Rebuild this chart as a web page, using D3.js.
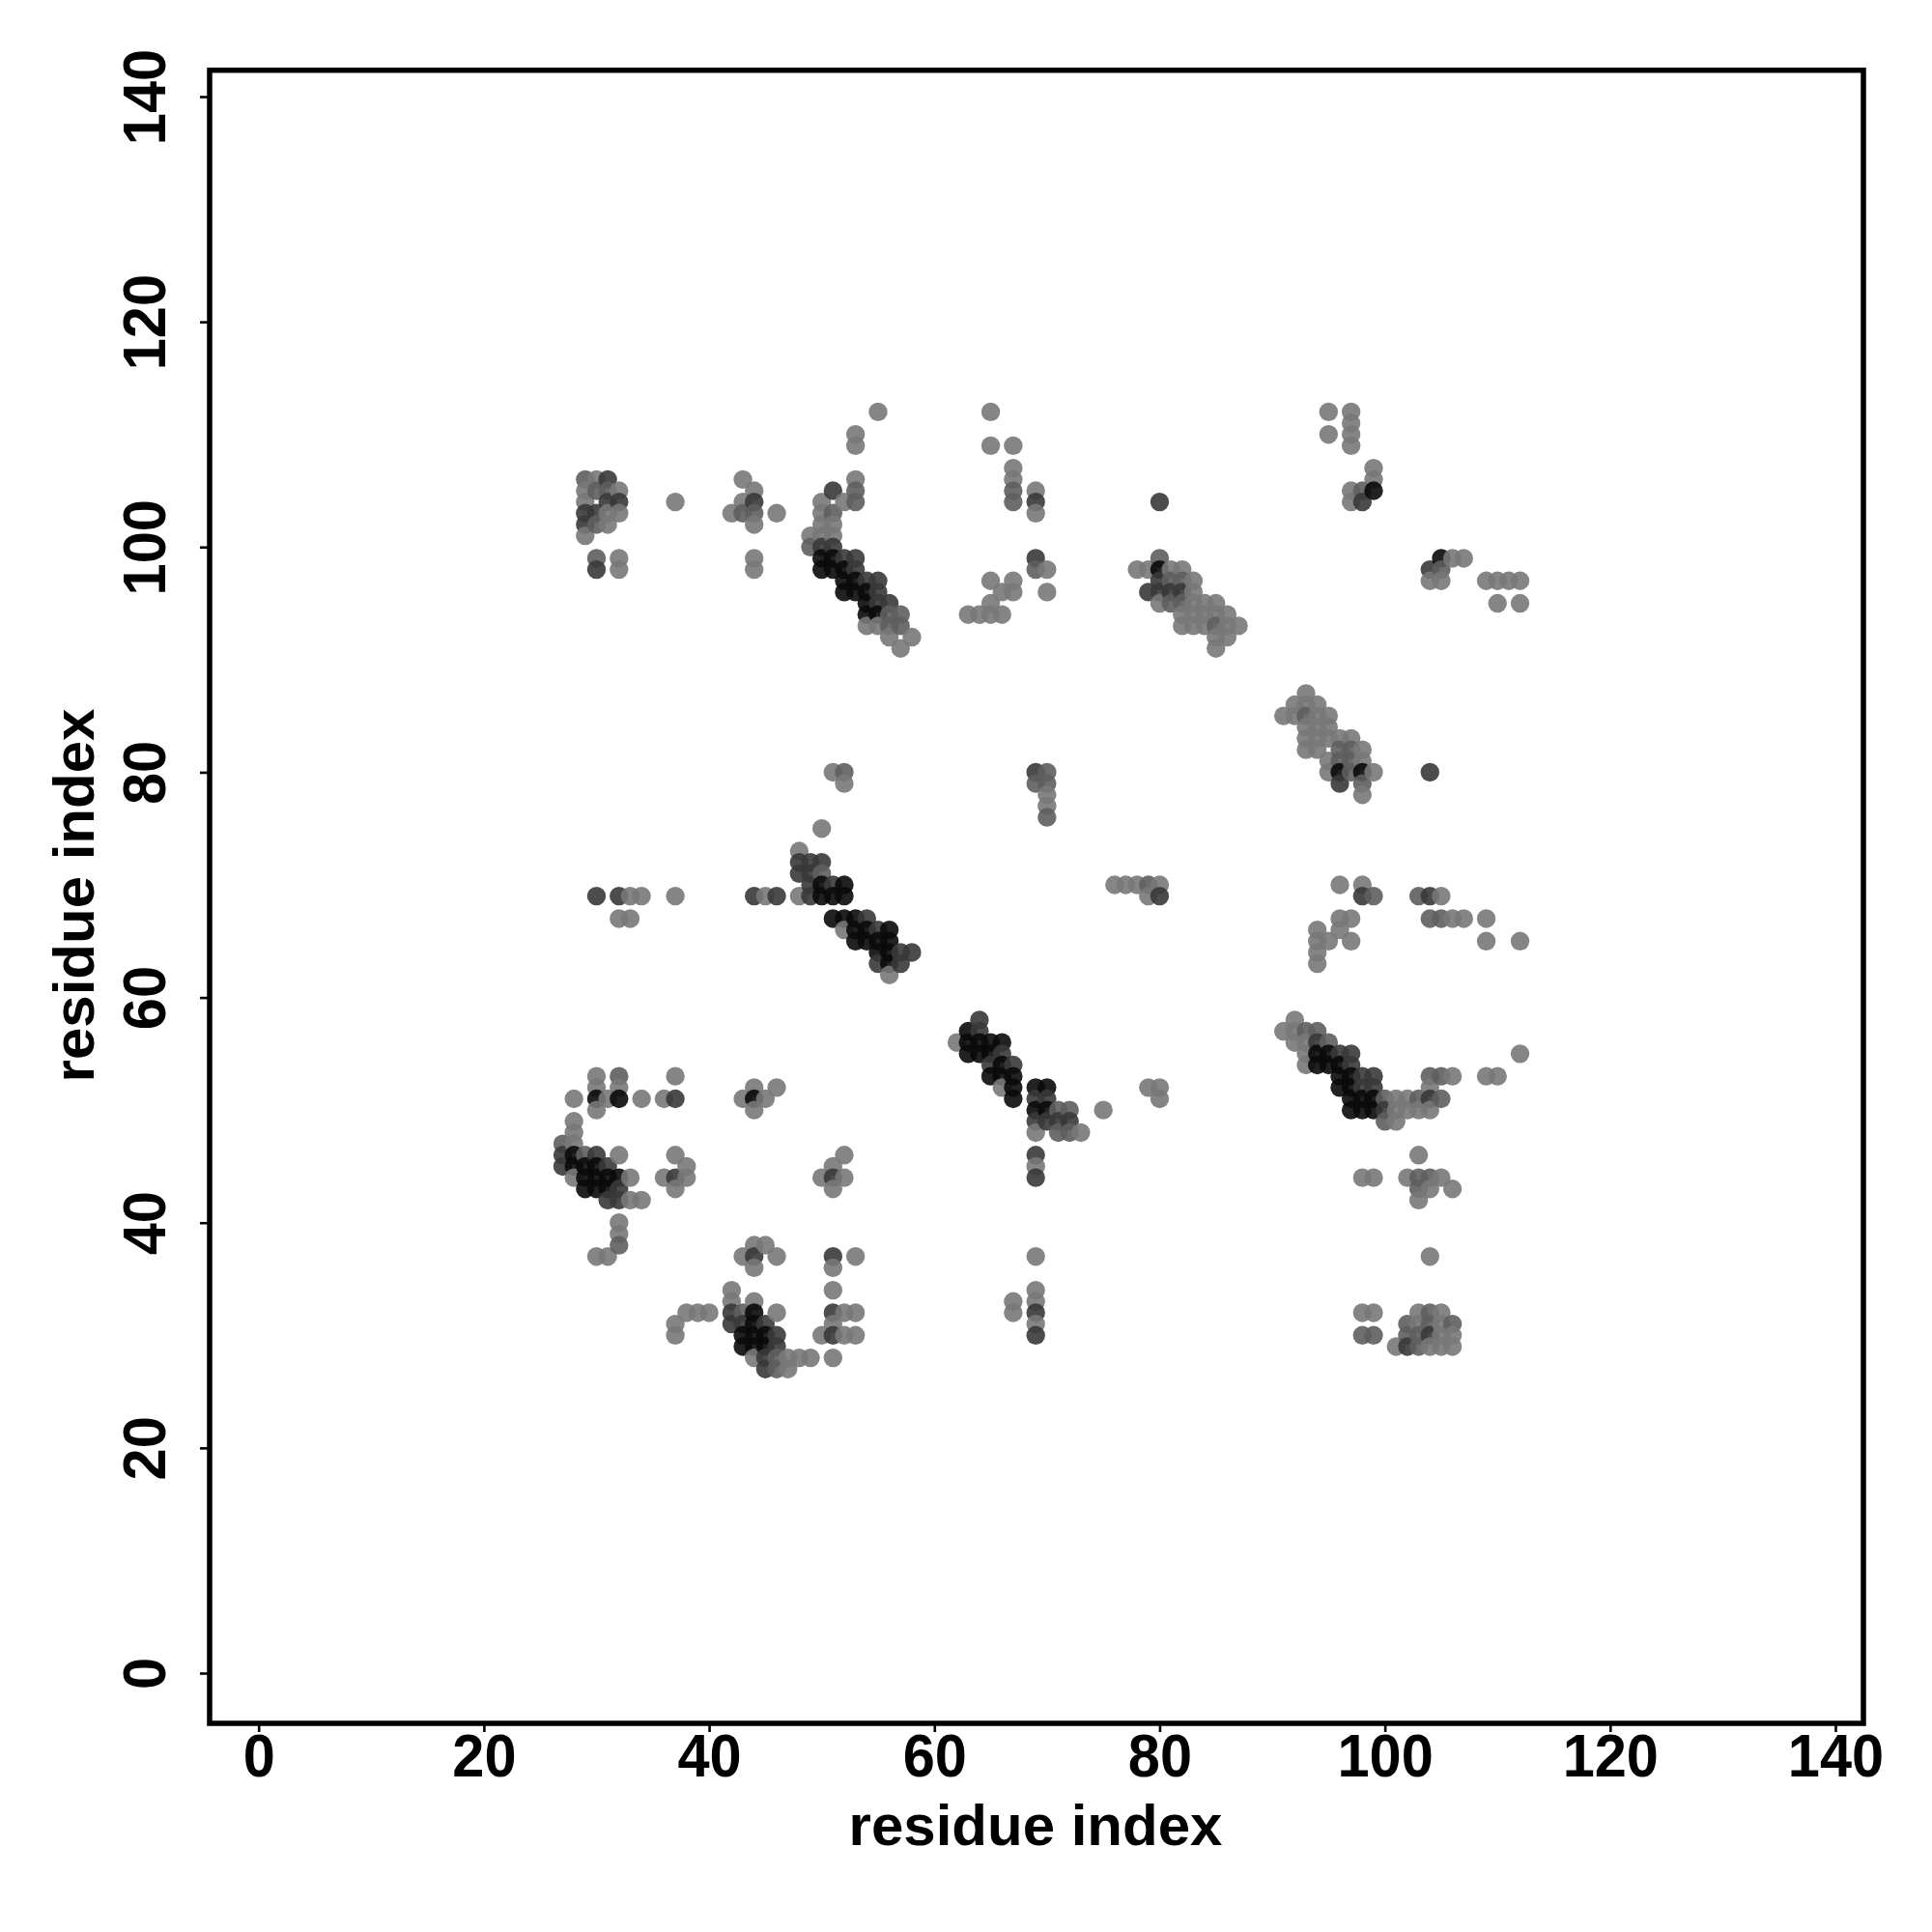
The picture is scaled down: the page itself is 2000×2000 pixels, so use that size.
<!DOCTYPE html>
<html>
<head>
<meta charset="utf-8">
<script src="https://cdn.jsdelivr.net/npm/d3@7"></script>
<style>html,body{margin:0;background:#fff}svg{display:block}</style>
</head>
<body>
<div id="chart"></div>
<script>
const xTicks = [0,20,40,60,80,100,120,140];
const yTicks = [0,20,40,60,80,100,120,140];
const xTitle = "residue index";
const yTitle = "residue index";
const levelGrays = ["#787878", "#5e5e5e", "#383838", "#0a0a0a"];

// contact pairs [residue, residue], grouped by darkness
const lightContacts = [
[30,106],[29,105],[29,104],[32,105],[31,103],[32,103],[31,102],[29,101],[32,99],[32,98],
[37,104],[43,104],[44,105],[42,103],[44,102],[44,99],[44,98],[46,103],[43,106],
[49,101],[50,104],[50,103],[50,102],[50,101],[51,102],[51,101],[52,104],[53,106],[53,110],[53,109],[55,112],
[54,93],[55,93],[57,91],[58,92],[56,92],
[65,112],[65,109],[67,109],[67,107],[67,106],[69,105],[69,103],[70,98],[70,96],[65,97],[67,97],[67,96],[66,96],[65,95],[63,94],[64,94],[65,94],[66,94],
[78,98],[79,98],[81,98],[82,98],[83,97],[83,96],[84,95],[85,95],[82,94],[83,94],[84,94],[85,94],[86,94],[82,93],[83,93],[84,93],[86,93],[87,93],[85,92],[86,92],[85,91],[80,95],[83,95],
[95,112],[97,112],[97,111],[97,110],[97,109],[95,110],[99,107],[99,106],[97,105],[97,104],
[106,99],[107,99],[104,97],[105,97],[109,97],[110,97],[111,97],[112,97],[110,95],[112,95],
[51,80],[52,79],[50,75],[48,73],[48,69],[33,69],[34,69],[37,69],[45,69],[32,67],[33,67],[52,66],[56,62],
[70,78],[70,77],[76,70],[77,70],[78,70],[80,70],[79,69],
[93,87],[92,86],[93,86],[94,86],[91,85],[92,85],[94,85],[95,85],[93,84],[94,84],[95,84],[93,83],[94,83],[95,83],[97,83],[96,83],[93,82],[94,82],[98,82],[95,81],[98,81],[95,80],[99,80],[98,78],
[96,70],[98,70],[105,69],[96,67],[97,67],[106,67],[107,67],[109,67],[94,66],[96,66],[94,65],[95,65],[97,65],[109,65],[112,65],[94,64],[94,63],
[30,53],[32,52],[30,52],[28,51],[31,51],[34,51],[36,51],[37,53],[30,50],[44,52],[46,52],[43,51],[45,51],[44,50],
[28,49],[28,48],[28,47],[32,46],[37,46],[38,45],[28,44],[33,44],[36,44],[38,44],[37,43],[33,42],[34,42],[32,40],[32,39],[30,37],[31,37],
[52,46],[50,44],[52,44],[51,43],[51,45],[45,38],[44,38],[43,37],[46,37],[44,36],[53,37],[51,36],[51,34],[42,34],
[38,32],[39,32],[40,32],[37,31],[37,30],[42,33],[44,33],[46,32],[44,28],[47,28],[48,28],[49,28],[47,27],
[52,32],[53,32],[51,31],[50,30],[52,30],[53,30],[51,28],
[62,56],[66,52],[69,48],[73,48],[75,50],[79,52],[80,52],[80,51],[69,45],[69,37],[69,34],[69,33],[69,31],[67,33],[67,32],
[92,58],[91,57],[92,57],[93,56],[92,56],[93,54],[93,55],[101,51],[102,51],[106,53],[109,53],[110,53],[112,55],[104,52],[101,50],[102,50],[103,50],[104,50],[101,49],
[103,46],[98,44],[99,44],[102,44],[105,44],[104,43],[106,43],[103,42],[104,37],
[98,32],[99,32],[101,29],[103,32],[105,32],[102,31],[103,31],[105,31],[106,30],[103,29],[104,29],[105,29],[106,29],[105,30]
];
const midContacts = [
[29,106],[30,105],[31,105],[30,102],[30,99],[43,103],[44,103],[49,100],[51,103],[53,105],[53,104],[56,94],[57,93],[57,94],[56,95],[56,93],
[67,105],[67,104],[69,98],[81,97],[82,97],[81,95],[82,95],[85,93],[80,99],
[98,105],[105,98],[52,80],
[69,79],[70,79],[70,80],[70,76],[79,70],[50,71],
[93,85],[96,82],[97,82],[96,81],[97,81],[97,80],[98,79],[99,69],[103,69],[104,67],[105,67],
[32,53],[32,38],[27,47],[29,46],[43,32],[46,28],[46,27],
[71,50],[72,50],[71,48],[72,48],[94,57],[93,57],[95,56],[100,49],[105,51],[104,53],[105,53],[103,51],[100,51],[103,44],[104,44],[103,43],
[98,30],[99,30],[102,30],[103,30],[106,31],[102,31],[104,32],[104,31],[103,29]
];
const darkContacts = [
[31,106],[31,104],[32,104],[29,103],[30,103],[29,102],[30,98],[44,104],[51,105],[50,100],[51,100],[53,98],[55,96],
[52,99],[53,99],[54,97],[55,97],[55,95],[56,95],
[69,104],[69,99],[79,96],[80,97],[80,96],[81,96],[82,96],[80,104],
[98,104],[104,98],[80,69],[96,79],[69,80],[104,80],[98,69],[104,69],[30,69],[32,69],[44,69],[46,69],
[48,72],[49,72],[50,72],[48,71],[49,71],[49,70],[51,70],[49,69],
[54,67],[55,66],[57,64],[58,64],[55,63],[57,63],
[37,51],[27,46],[27,45],[30,46],[31,45],[32,43],[32,42],[31,42],[37,44],[44,37],[42,32],[42,31],[43,31],[45,31],[46,30],[46,29],[45,28],[45,27],
[51,37],[51,32],[51,30],[51,44],[64,58],[64,57],[66,55],[67,54],[65,54],[69,51],[70,51],[70,49],[71,49],[72,49],[69,49],[69,46],[69,44],[69,32],[69,30],
[94,56],[96,55],[97,55],[97,54],[98,53],[99,53],[98,52],[99,52],[100,50],[104,51],[104,30],[102,29]
];
const blackContacts = [
[50,99],[51,99],[50,98],[51,98],[52,98],[52,97],[53,97],[52,96],[53,96],[54,96],[54,95],[54,94],[55,94],
[80,98],[105,99],[99,105],[96,80],[98,80],
[50,70],[52,70],[50,69],[51,69],[52,69],[51,67],[52,67],[53,67],[53,66],[54,66],[56,66],[53,65],[54,65],[55,65],[56,65],[55,64],[56,64],[56,63],
[30,51],[32,51],[44,51],[28,45],[29,45],[30,45],[28,46],[30,44],[29,44],[31,44],[32,44],[29,43],[30,43],[31,43],
[44,32],[43,30],[44,30],[45,30],[43,29],[44,29],[45,29],[44,31],
[63,57],[63,56],[64,56],[65,56],[66,56],[63,55],[64,55],[65,55],[65,53],[66,53],[66,54],[67,53],[67,52],[67,51],[69,52],[70,52],[69,50],[70,50],
[94,55],[95,55],[94,54],[95,54],[96,54],[96,53],[97,53],[96,52],[97,52],[98,51],[97,51],[99,51],[97,50],[98,50],[99,50]
];
const contactLevels = [lightContacts, midContacts, darkContacts, blackContacts];

const W = 2000, H = 2000;
const svg = d3.select("#chart").append("svg").attr("width", W).attr("height", H)
  .attr("font-family", "'Liberation Sans', Arial, sans-serif").attr("font-weight", "bold");
svg.append("rect").attr("width", W).attr("height", H).attr("fill", "#fff");

const x = d3.scaleLinear().domain([0, 140]).range([267.7, 1900]);
const y = d3.scaleLinear().domain([0, 140]).range([1732, 100]);
const frame = {left: 217, right: 1929, top: 72.7, bottom: 1784};

// one mark per cell (darkest reading wins), painted column by column
const cells = new Map();
contactLevels.forEach((pts, level) => pts.forEach(p => cells.set(p[0] + "," + p[1], {i: p[0], j: p[1], level})));
const contacts = Array.from(cells.values()).sort((a, b) => a.i - b.i || b.j - a.j);

svg.append("g").selectAll("circle").data(contacts).join("circle")
  .attr("cx", d => x(d.i)).attr("cy", d => y(d.j)).attr("r", 9.7)
  .attr("fill", d => levelGrays[d.level]).attr("fill-opacity", 0.9);

const xAxis = svg.append("g").attr("transform", `translate(0,${frame.bottom})`)
  .call(d3.axisBottom(x).tickValues(xTicks).tickSize(9).tickPadding(0).tickFormat(d3.format("d")));
const yAxis = svg.append("g").attr("transform", `translate(${frame.left},0)`)
  .call(d3.axisLeft(y).tickValues(yTicks).tickSize(10).tickPadding(0).tickFormat(d3.format("d")));
[xAxis, yAxis].forEach(a => {
  a.select(".domain").remove();
  a.selectAll(".tick line").attr("stroke", "#000").attr("stroke-width", 2.6);
});
const tickFont = 59.5;
xAxis.selectAll(".tick text").attr("font-size", tickFont).attr("font-weight", "bold").attr("fill", "#000")
  .attr("text-anchor", "middle").attr("y", 0).attr("dy", 0)
  .attr("transform", "translate(0,55) scale(1,1.06)");
yAxis.selectAll(".tick text").attr("font-size", tickFont).attr("font-weight", "bold").attr("fill", "#000")
  .attr("text-anchor", "middle").attr("x", 0).attr("y", 0).attr("dy", 0)
  .attr("transform", "translate(-46,0) rotate(-90) scale(1,1.06)");

svg.append("rect").attr("x", frame.left).attr("y", frame.top)
  .attr("width", frame.right - frame.left).attr("height", frame.bottom - frame.top)
  .attr("fill", "none").attr("stroke", "#000").attr("stroke-width", 5.5);

svg.append("text").attr("x", 1072).attr("y", 1910).attr("text-anchor", "middle")
  .attr("font-size", 60).attr("fill", "#000").text(xTitle);
svg.append("text").attr("transform", "translate(97,927) rotate(-90)").attr("text-anchor", "middle")
  .attr("font-size", 60).attr("fill", "#000").text(yTitle);
</script>
</body>
</html>
